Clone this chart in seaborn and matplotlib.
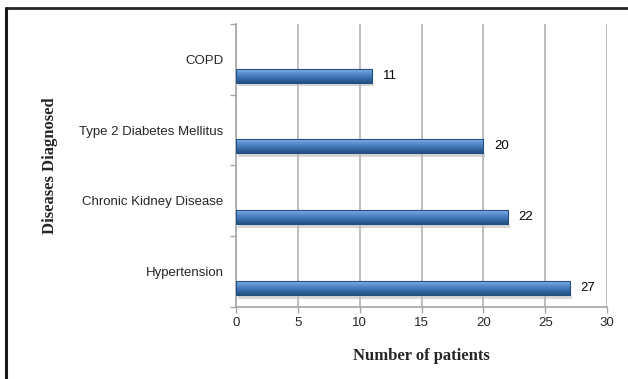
import numpy as np
import pandas as pd
import matplotlib
matplotlib.use("Agg")
import matplotlib.pyplot as plt
from matplotlib.lines import Line2D
from matplotlib.colors import LinearSegmentedColormap
import seaborn as sns

# Diseases and patient counts
diseases = ["COPD", "Type 2 Diabetes Mellitus", "Chronic Kidney Disease", "Hypertension"]
patients = [11, 20, 22, 27]
x_ticks = [0, 5, 10, 15, 20, 25, 30]

df = pd.DataFrame({"Disease": diseases, "Patients": patients})

sns.set_theme(style="white")
plt.rcParams["font.family"] = ["Liberation Sans", "DejaVu Sans"]

fig = plt.figure(figsize=(6.28, 3.79), dpi=100)
ax = fig.add_axes([0.3758, 0.19, 0.5908, 0.7467])

sns.barplot(data=df, x="Patients", y="Disease", orient="h", width=0.2,
            color="#4f81bd", edgecolor="#234f82", linewidth=0.8, ax=ax, zorder=3)

# Shaded blue fill inside each bar
grad_cmap = LinearSegmentedColormap.from_list(
    "barshade", ["#95c0ee", "#6699d8", "#4a7fc0", "#3466a4", "#24507f"])
grad = np.linspace(0, 1, 64).reshape(-1, 1)
for patch in ax.patches:
    x0, y0 = patch.get_x(), patch.get_y()
    w, h = patch.get_width(), patch.get_height()
    # soft shadow under the bar
    ax.fill_between([x0 + 0.15, x0 + w + 0.15], y0 + h, y0 + h + 0.05,
                    color="#bdbdbd", alpha=0.6, lw=0, zorder=2)
    img = ax.imshow(grad, cmap=grad_cmap, aspect="auto",
                    extent=(x0, x0 + w, y0 + h, y0), zorder=3.5)
    img.set_clip_path(patch)
    patch.set_facecolor("none")
    patch.set_zorder(4)

# Value labels at the bar ends
for i, v in enumerate(patients):
    ax.text(v + 0.85, i, f"{v}", va="center", ha="left", fontsize=9.5,
            color="black", zorder=5)

# Axis limits and ticks: labels centred in each band, tick marks at band edges
n = len(diseases)
ax.set_xlim(0, 30)
ax.set_ylim(n - 1 + 0.27, -0.73)
ax.set_xticks(x_ticks)
ax.set_xticklabels([str(t) for t in x_ticks], fontsize=9.5)
ax.set_yticks([k - 0.23 for k in range(n)])
ax.set_yticklabels(diseases, fontsize=9.5)
ax.set_yticks([k - 0.73 for k in range(n + 1)], minor=True)
ax.tick_params(axis="y", which="major", length=0, pad=9)
ax.tick_params(axis="y", which="minor", left=True, length=4, width=1, color="#a6a6a6")
ax.tick_params(axis="x", which="major", bottom=True, length=4, width=1,
               color="#a6a6a6", pad=3)

ax.grid(axis="x", color="#b3b3b3", linewidth=1.2, zorder=0)
ax.grid(axis="y", visible=False)
ax.set_axisbelow(True)
for side in ["top", "right"]:
    ax.spines[side].set_visible(False)
for side in ["left", "bottom"]:
    ax.spines[side].set_color("#a6a6a6")
    ax.spines[side].set_linewidth(1.2)

ax.set_xlabel("Number of patients", fontsize=12, fontweight="bold",
              family=["Liberation Serif"], labelpad=14)
ax.set_ylabel("Diseases Diagnosed", fontsize=12, fontweight="bold",
              family=["Liberation Serif"])
ax.yaxis.set_label_coords(-0.48, 0.5)

# Page frame lines along the top and left edges
fig.add_artist(Line2D([0.0096, 1.0], [0.979, 0.979], color="#262626",
                      linewidth=2.0, transform=fig.transFigure))
fig.add_artist(Line2D([0.0096, 0.0096], [0.0, 0.979], color="#1a1a1a",
                      linewidth=2.2, transform=fig.transFigure))

fig.savefig("out.png", dpi=100)
